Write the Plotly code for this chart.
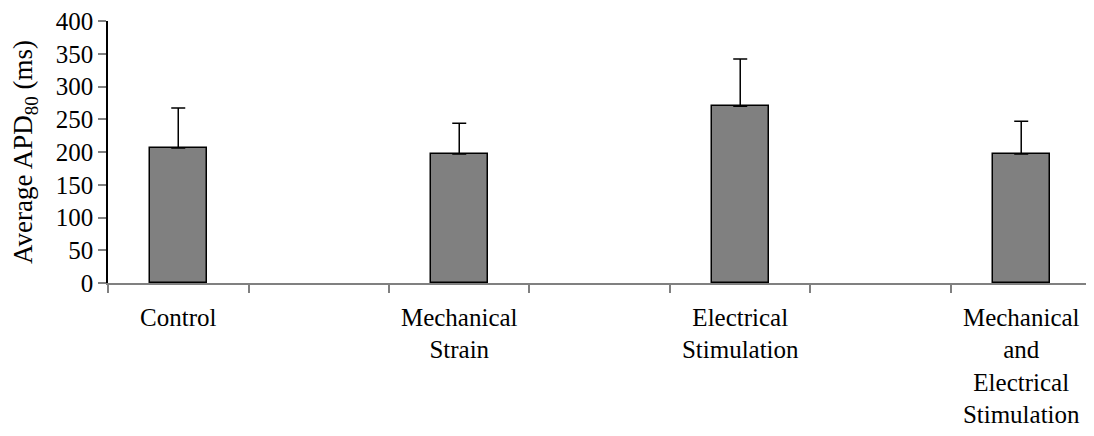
import plotly.graph_objects as go

categories = ["Control", "Mechanical<br>Strain", "Electrical<br>Stimulation",
              "Mechanical<br>and<br>Electrical<br>Stimulation"]
means = [206, 197, 270, 197]
err_plus = [61, 47, 72, 50]
y_ticks = [0, 50, 100, 150, 200, 250, 300, 350, 400]

# positions: each category occupies one unit, bar in the first half-slot
positions = [i + 0.25 for i in range(len(categories))]
slot_ticks = [i * 0.5 for i in range(8)]

FONT = "Liberation Serif, Times New Roman, serif"

fig = go.Figure()
fig.add_trace(go.Bar(
    x=positions, y=means, width=0.203,
    marker=dict(color="#808080", line=dict(color="black", width=1.5)),
    error_y=dict(type="data", array=err_plus, arrayminus=[0] * len(means),
                 symmetric=False, color="black", thickness=1.5, width=7),
    showlegend=False,
))

# page body adds an 8px offset; figure sized so it ends at the window edge
fig.update_layout(
    width=1086, height=428,
    margin=dict(l=100, r=0, t=8, b=153),
    paper_bgcolor="white", plot_bgcolor="white",
    font=dict(family=FONT, size=25, color="black"),
    bargap=0,
)
fig.update_xaxes(
    range=[0, 3.509], tickmode="array", tickvals=positions, ticktext=categories,
    ticks="outside", ticklen=0, showgrid=False, zeroline=False,
    showline=True, linecolor="#808080", linewidth=1.5,
    ticklabelstandoff=11,
    minor=dict(tickmode="array", tickvals=slot_ticks, ticks="outside",
               ticklen=8, tickcolor="#808080", tickwidth=1.5, showgrid=False),
    tickfont=dict(family=FONT, size=25, color="black"),
)
fig.update_yaxes(
    range=[0, 400], tickmode="array", tickvals=y_ticks,
    ticks="outside", ticklen=8, tickcolor="#808080", tickwidth=1.5,
    showgrid=False, zeroline=False, ticklabeloverflow="allow",
    showline=True, linecolor="black", linewidth=1.5,
    tickfont=dict(family=FONT, size=25, color="black"),
    title=dict(text="Average APD<sub>80</sub> (ms)",
               font=dict(family=FONT, size=27, color="black"),
               standoff=19),
)

fig.write_html("out.html")
